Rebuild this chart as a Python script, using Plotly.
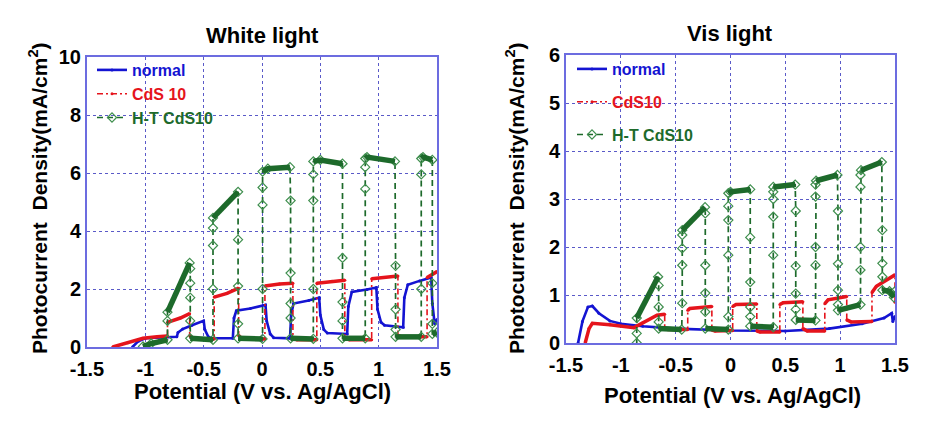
import plotly.graph_objects as go

# ---------------- data ----------------
X_TICKS = [-1.5, -1.0, -0.5, 0.0, 0.5, 1.0, 1.5]
X_TICK_TEXT = ["-1.5", "-1", "-0.5", "0", "0.5", "1", "1.5"]
Y_TICKS_WHITE = [0, 2, 4, 6, 8, 10]
Y_TICKS_VIS = [0, 1, 2, 3, 4, 5, 6]

SERIES_NAMES_WHITE = ["normal", "CdS 10", "H-T CdS10"]
SERIES_NAMES_VIS = ["normal", "CdS10", "H-T CdS10"]

# White light - normal
WN_x = [-1.11, -1.06, -1.00, -0.85, -0.73, -0.72, -0.68, -0.60, -0.50, -0.49, -0.46, -0.43,
        -0.25, -0.24, -0.22, -0.10, 0.03, 0.04, 0.07, 0.10, 0.24, 0.25, 0.27, 0.40, 0.49,
        0.50, 0.53, 0.56, 0.73, 0.74, 0.77, 0.90, 0.98, 0.99, 1.02, 1.05, 1.21, 1.22, 1.25,
        1.35, 1.45, 1.46, 1.48, 1.50]
WN_y = [0.00, 0.20, 0.30, 0.32, 0.35, 0.50, 0.62, 0.75, 0.90, 0.60, 0.35, 0.30,
        0.30, 1.00, 1.25, 1.33, 1.45, 0.90, 0.45, 0.32, 0.30, 1.10, 1.50, 1.60, 1.70,
        1.10, 0.60, 0.48, 0.45, 1.40, 1.90, 1.98, 2.05, 1.30, 0.85, 0.75, 0.68, 1.70, 2.15,
        2.28, 2.40, 1.50, 0.80, 0.95]

# White light - CdS 10
WC_x = [-1.28, -1.15, -1.02, -0.90, -0.81, -0.81, -0.70, -0.62, -0.62, -0.59, -0.41, -0.41,
        -0.30, -0.20, -0.20, -0.17, 0.025, 0.025, 0.15, 0.265, 0.265, 0.30, 0.47, 0.47,
        0.60, 0.71, 0.71, 0.75, 0.94, 0.94, 1.05, 1.165, 1.165, 1.20, 1.415, 1.415, 1.50]
WC_y = [0.00, 0.15, 0.30, 0.35, 0.38, 0.85, 1.00, 1.15, 0.40, 0.28, 0.28, 1.72,
        1.85, 2.03, 0.40, 0.28, 0.28, 2.10, 2.17, 2.20, 0.30, 0.25, 0.25, 2.20,
        2.27, 2.30, 0.30, 0.25, 0.25, 2.35, 2.40, 2.45, 0.40, 0.35, 0.35, 2.40, 2.60]

# White light - H-T CdS10
WH_x = [-1.02, -0.95, -0.81, -0.81, -0.81, -0.62,
        -0.615, -0.615, -0.615, -0.615, -0.615, -0.42,
        -0.42, -0.42, -0.42, -0.42, -0.205,
        -0.205, -0.205, -0.205, -0.205, 0.005,
        0.005, 0.005, 0.005, 0.005, 0.05, 0.24,
        0.245, 0.245, 0.245, 0.245, 0.245, 0.44,
        0.44, 0.44, 0.44, 0.44, 0.50, 0.69,
        0.69, 0.69, 0.69, 0.69, 0.885,
        0.885, 0.885, 0.885, 0.90, 1.14,
        1.145, 1.145, 1.145, 1.145, 1.365,
        1.365, 1.365, 1.365, 1.38, 1.46,
        1.46, 1.46, 1.46, 1.50]
WH_y = [0.02, 0.12, 0.25, 0.90, 1.20, 2.90,
        2.70, 2.20, 1.70, 0.90, 0.30, 0.25,
        2.00, 3.50, 4.10, 4.45, 5.35,
        3.70, 2.10, 0.80, 0.30, 0.28,
        2.00, 4.90, 5.50, 6.05, 6.15, 6.20,
        5.05, 2.55, 1.50, 1.00, 0.30, 0.28,
        2.00, 5.05, 5.95, 6.40, 6.45, 6.32,
        3.07, 1.55, 0.90, 0.30, 0.30,
        5.45, 6.20, 6.50, 6.55, 6.40,
        2.80, 1.30, 0.60, 0.35, 0.35,
        2.00, 5.95, 6.50, 6.55, 6.45,
        2.20, 0.80, 0.45, 0.50]

# Vis light - normal
VN_x = [-1.39, -1.35, -1.30, -1.26, -1.20, -1.10, -1.00, -0.80, -0.50, 0.00, 0.50, 0.90,
        1.20, 1.40, 1.47, 1.48, 1.50]
VN_y = [0.00, 0.45, 0.75, 0.77, 0.62, 0.46, 0.40, 0.35, 0.30, 0.26, 0.25, 0.30,
        0.40, 0.52, 0.62, 0.45, 0.55]

# Vis light - CdS10
VC_x = [-1.325, -1.29, -1.26, -1.10, -0.88, -0.80, -0.67, -0.60, -0.60, -0.57, -0.39, -0.39,
        -0.37, -0.17, -0.17, -0.14, 0.02, 0.02, 0.05, 0.24, 0.24, 0.27, 0.45, 0.45,
        0.48, 0.66, 0.66, 0.70, 0.86, 0.86, 0.89, 1.06, 1.06, 1.10, 1.29, 1.29,
        1.33, 1.50, 1.50]
VC_y = [0.00, 0.30, 0.41, 0.38, 0.32, 0.42, 0.58, 0.60, 0.32, 0.28, 0.28, 0.68,
        0.72, 0.76, 0.27, 0.25, 0.26, 0.76, 0.80, 0.81, 0.25, 0.23, 0.23, 0.80,
        0.84, 0.86, 0.30, 0.25, 0.25, 0.82, 0.90, 0.97, 0.48, 0.44, 0.45, 1.05,
        1.18, 1.42, 0.85]

# Vis light - H-T CdS10
VH_x = [-0.855, -0.855, -0.855, -0.66,
        -0.655, -0.655, -0.655, -0.655, -0.445,
        -0.44, -0.44, -0.44, -0.44, -0.44, -0.232,
        -0.23, -0.23, -0.23, -0.23, -0.23, -0.02,
        -0.02, -0.02, -0.02, -0.02, -0.02, 0.00, 0.18,
        0.18, 0.18, 0.18, 0.18, 0.18, 0.39,
        0.39, 0.39, 0.39, 0.39, 0.39, 0.59,
        0.595, 0.595, 0.595, 0.595, 0.595, 0.775,
        0.775, 0.775, 0.775, 0.775, 0.78, 0.975,
        0.98, 0.98, 0.98, 0.98, 0.98, 1.185,
        1.185, 1.185, 1.185, 1.185, 1.19, 1.38,
        1.385, 1.385, 1.385, 1.385, 1.45, 1.49, 1.50]
VH_y = [0.00, 0.20, 0.52, 1.38,
        1.20, 0.75, 0.44, 0.30, 0.28,
        0.83, 1.62, 1.97, 2.25, 2.35, 2.83,
        2.70, 1.62, 1.04, 0.65, 0.30, 0.28,
        0.55, 1.83, 2.56, 2.85, 3.12, 3.15, 3.20,
        2.20, 1.27, 0.75, 0.55, 0.35, 0.33,
        1.83, 2.63, 3.00, 3.15, 3.25, 3.30,
        2.75, 1.60, 1.03, 0.70, 0.48, 0.47,
        1.62, 2.00, 3.05, 3.30, 3.38, 3.50,
        2.75, 1.65, 1.10, 0.80, 0.68, 0.80,
        1.52, 2.00, 3.25, 3.50, 3.60, 3.77,
        2.35, 1.66, 1.38, 1.10, 1.08, 0.95, 1.08]

# ---------------- style ----------------
BLUE = "#1414d2"
RED = "#e5141c"
GREEN = "#1d6a2b"
GREEN_MK = "#3f8f4e"
GRID = "#5a5ac8"
AXLINE = "#6c6ce0"
FONT = "Liberation Sans, Arial, sans-serif"


def flat_segments(xs, ys, tol=0.012):
    """Non-vertical stretches of a path (drawn thick, like the dense plateaus)."""
    ox, oy = [], []
    for i in range(len(xs) - 1):
        if xs[i + 1] - xs[i] > tol:
            if ox and ox[-1] == xs[i] and oy[-1] == ys[i]:
                ox.append(xs[i + 1]); oy.append(ys[i + 1])
            else:
                if ox:
                    ox.append(None); oy.append(None)
                ox += [xs[i], xs[i + 1]]; oy += [ys[i], ys[i + 1]]
    return ox, oy


def colored(name, color):
    return f"<span style='color:{color}'>{name}</span>"


fig = go.Figure()


def add_panel(xa, ya, leg, names, nx, ny, cx, cy, hx, hy):
    fig.add_trace(go.Scatter(x=nx, y=ny, mode="lines+markers", name=colored(names[0], BLUE),
                             line=dict(color=BLUE, width=2.6), marker=dict(size=3, color=BLUE),
                             xaxis=xa, yaxis=ya, legend=leg, legendgroup=leg + "a"))
    fig.add_trace(go.Scatter(x=cx, y=cy, mode="lines+markers", name=colored(names[1], RED),
                             line=dict(color=RED, width=1.6, dash="6px,3px,2px,3px"),
                             marker=dict(size=3, color=RED),
                             xaxis=xa, yaxis=ya, legend=leg, legendgroup=leg + "b"))
    tx, ty = flat_segments(cx, cy)
    fig.add_trace(go.Scatter(x=tx, y=ty, mode="lines", line=dict(color=RED, width=3.5),
                             showlegend=False, hoverinfo="skip",
                             xaxis=xa, yaxis=ya, legend=leg, legendgroup=leg + "b"))
    fig.add_trace(go.Scatter(x=hx, y=hy, mode="lines+markers", name=colored(names[2], GREEN),
                             line=dict(color=GREEN, width=1.7, dash="6px,4px"),
                             marker=dict(symbol="diamond-open", size=7, color=GREEN_MK,
                                         line=dict(width=1.2, color=GREEN_MK)),
                             xaxis=xa, yaxis=ya, legend=leg, legendgroup=leg + "c"))
    tx, ty = flat_segments(hx, hy)
    fig.add_trace(go.Scatter(x=tx, y=ty, mode="lines", line=dict(color=GREEN, width=5.5),
                             showlegend=False, hoverinfo="skip",
                             xaxis=xa, yaxis=ya, legend=leg, legendgroup=leg + "c"))


add_panel("x", "y", "legend", SERIES_NAMES_WHITE, WN_x, WN_y, WC_x, WC_y, WH_x, WH_y)
add_panel("x2", "y2", "legend2", SERIES_NAMES_VIS, VN_x, VN_y, VC_x, VC_y, VH_x, VH_y)

W, H = 934, 436
tickfont = dict(family=FONT, size=20, color="black", weight="bold")
common_x = dict(range=[-1.5, 1.5], tickmode="array", tickvals=X_TICKS, ticktext=X_TICK_TEXT,
                showline=True, linecolor=AXLINE, linewidth=2, mirror=True,
                showgrid=True, gridcolor=GRID, griddash="dot", gridwidth=1.2,
                zeroline=False, ticks="", tickfont=tickfont, automargin=False,
                ticklabelstandoff=3)
common_y = dict(tickmode="array", showline=True, linecolor=AXLINE, linewidth=2, mirror=True,
                showgrid=True, gridcolor=GRID, griddash="dot", gridwidth=1.2,
                zeroline=False, ticks="", tickfont=tickfont, automargin=False)

fig.update_layout(
    width=W, height=H, margin=dict(l=0, r=0, t=0, b=0, autoexpand=False),
    paper_bgcolor="white", plot_bgcolor="white",
    font=dict(family=FONT, color="black"),
    xaxis=dict(domain=[87 / W, 437 / W], anchor="y", **common_x),
    yaxis=dict(domain=[(H - 347) / H, (H - 57) / H], anchor="x", range=[0, 10],
               tickvals=Y_TICKS_WHITE, **common_y),
    xaxis2=dict(domain=[566 / W, 895 / W], anchor="y2", **common_x),
    yaxis2=dict(domain=[(H - 343) / H, (H - 55) / H], anchor="x2", range=[0, 6],
                tickvals=Y_TICKS_VIS, **common_y),
    legend=dict(x=92 / W, y=(H - 53) / H, xanchor="left", yanchor="top",
                bgcolor="rgba(0,0,0,0)", borderwidth=0, itemwidth=30,
                traceorder="grouped", tracegroupgap=0,
                font=dict(family=FONT, size=16, weight="bold")),
    legend2=dict(x=572 / W, y=(H - 52) / H, xanchor="left", yanchor="top",
                 bgcolor="rgba(0,0,0,0)", borderwidth=0, itemwidth=30,
                 traceorder="grouped", tracegroupgap=9,
                 font=dict(family=FONT, size=16, weight="bold")),
    showlegend=True,
)

ann_font_title = dict(family=FONT, size=22, color="black", weight="bold")
ann_font_axis = dict(family=FONT, size=22, color="black", weight="bold")
YTITLE = "Photocurrent\u00a0 Density(mA/cm<sup>2</sup>)"
XTITLE = "Potential (V vs. Ag/AgCl)"


def ann(text, px, py, font, angle=0):
    fig.add_annotation(text=text, x=px / W, y=1 - py / H, xref="paper", yref="paper",
                       showarrow=False, font=font, textangle=angle,
                       xanchor="center", yanchor="middle")


ann("White light", 262, 36, ann_font_title)
ann("Vis light", 730, 34, ann_font_title)
ann(XTITLE, 262, 391, ann_font_axis)
ann(XTITLE, 732, 395, ann_font_axis)
ann(YTITLE, 38, 198, dict(ann_font_axis, size=21), -90)
ann(YTITLE, 515, 198, dict(ann_font_axis, size=21), -90)

fig.write_html("out.html")
